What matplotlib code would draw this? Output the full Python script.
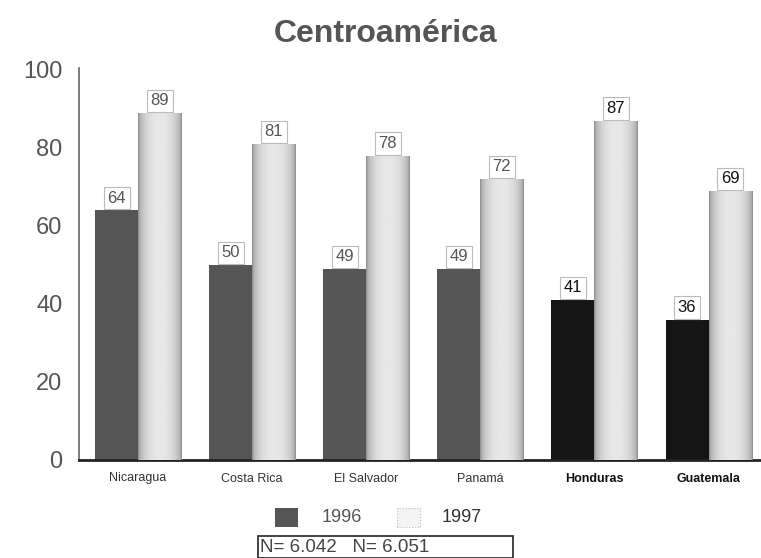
import numpy as np
import matplotlib.pyplot as plt
from matplotlib.patches import Rectangle

plt.rcParams['font.family'] = ['Liberation Sans', 'DejaVu Sans']

countries = ["Nicaragua", "Costa Rica", "El Salvador", "Panamá", "Honduras", "Guatemala"]
v1996 = [64, 50, 49, 49, 41, 36]
v1997 = [89, 81, 78, 72, 87, 69]
c1996 = ["#555555", "#555555", "#555555", "#555555", "#151515", "#151515"]
bold_labels = [False, False, False, False, True, True]
n_text = "N= 6.042   N= 6.051"

fig = plt.figure(figsize=(7.61, 5.58), dpi=100)
ax = fig.add_axes([79 / 761, 98 / 558, 682 / 761, 392 / 558])

x = np.arange(len(countries))
w = 0.377

b96 = ax.bar(x - w / 2, v1996, w, color=c1996, edgecolor="none", zorder=2)
b97 = ax.bar(x + w / 2, v1997, w, color="#d4d4d4", edgecolor="none", zorder=2)

# cylinder-like shading for the 1997 bars
prof = np.linspace(-1, 1, 60)
shade = 0.55 + 0.36 * (1 - prof ** 2) ** 0.5
grad = np.tile(shade, (2, 1))
for b in b97:
    im = ax.imshow(grad, cmap="gray", vmin=0, vmax=1, aspect="auto",
                   extent=[b.get_x(), b.get_x() + b.get_width(), 0, b.get_height()],
                   zorder=3, interpolation="bilinear")
    im.set_clip_path(b)

def label(bar, val, dark):
    ax.text(bar.get_x() + bar.get_width() / 2, val + 1.2, str(val),
            ha="center", va="bottom", fontsize=12,
            color="#111111" if dark else "#555555", zorder=5,
            bbox=dict(boxstyle="square,pad=0.22", fc="white", ec="#bbbbbb", lw=0.8))

for i in range(len(countries)):
    label(b96[i], v1996[i], bold_labels[i])
    label(b97[i], v1997[i], bold_labels[i])

ax.set_xlim(-0.518, 5.46)
ax.set_ylim(0, 100.5)
ax.set_yticks([0, 20, 40, 60, 80, 100])
ax.tick_params(axis="y", length=0, labelsize=17, labelcolor="#555555", pad=12)
ax.set_xticks(x)
ax.set_xticklabels(countries, fontsize=9, color="#333333")
for t, bl in zip(ax.get_xticklabels(), bold_labels):
    if bl:
        t.set_fontweight("bold")
        t.set_color("#111111")
ax.tick_params(axis="x", length=0, pad=9)

ax.spines["top"].set_visible(False)
ax.spines["right"].set_visible(False)
ax.spines["left"].set_color("#666666")
ax.spines["left"].set_linewidth(1.2)
ax.spines["bottom"].set_color("#222222")
ax.spines["bottom"].set_linewidth(2)

fig.text(386 / 761, 1 - 34 / 558, "Centroamérica", ha="center", va="center",
         fontsize=23, fontweight="bold", color="#555555")

# legend
fig.patches.append(Rectangle((275 / 761, 1 - 527 / 558), 23 / 761, 19 / 558,
                             transform=fig.transFigure, fc="#555555", ec="none"))
fig.text(322 / 761, 1 - 517 / 558, "1996", ha="left", va="center", fontsize=13, color="#555555")
fig.patches.append(Rectangle((397 / 761, 1 - 527 / 558), 23 / 761, 19 / 558,
                             transform=fig.transFigure, fc="#f4f4f4", ec="#bbbbbb",
                             lw=0.8, ls=":"))
fig.text(442 / 761, 1 - 517 / 558, "1997", ha="left", va="center", fontsize=13, color="#333333")

fig.patches.append(Rectangle((258 / 761, 0), 255 / 761, 22 / 558,
                             transform=fig.transFigure, fc="white", ec="#222222", lw=1.2))
fig.text(260 / 761, 1 - 548 / 558, n_text, ha="left", va="center", fontsize=13.5, color="#444444")

fig.savefig("out.png", dpi=100)
